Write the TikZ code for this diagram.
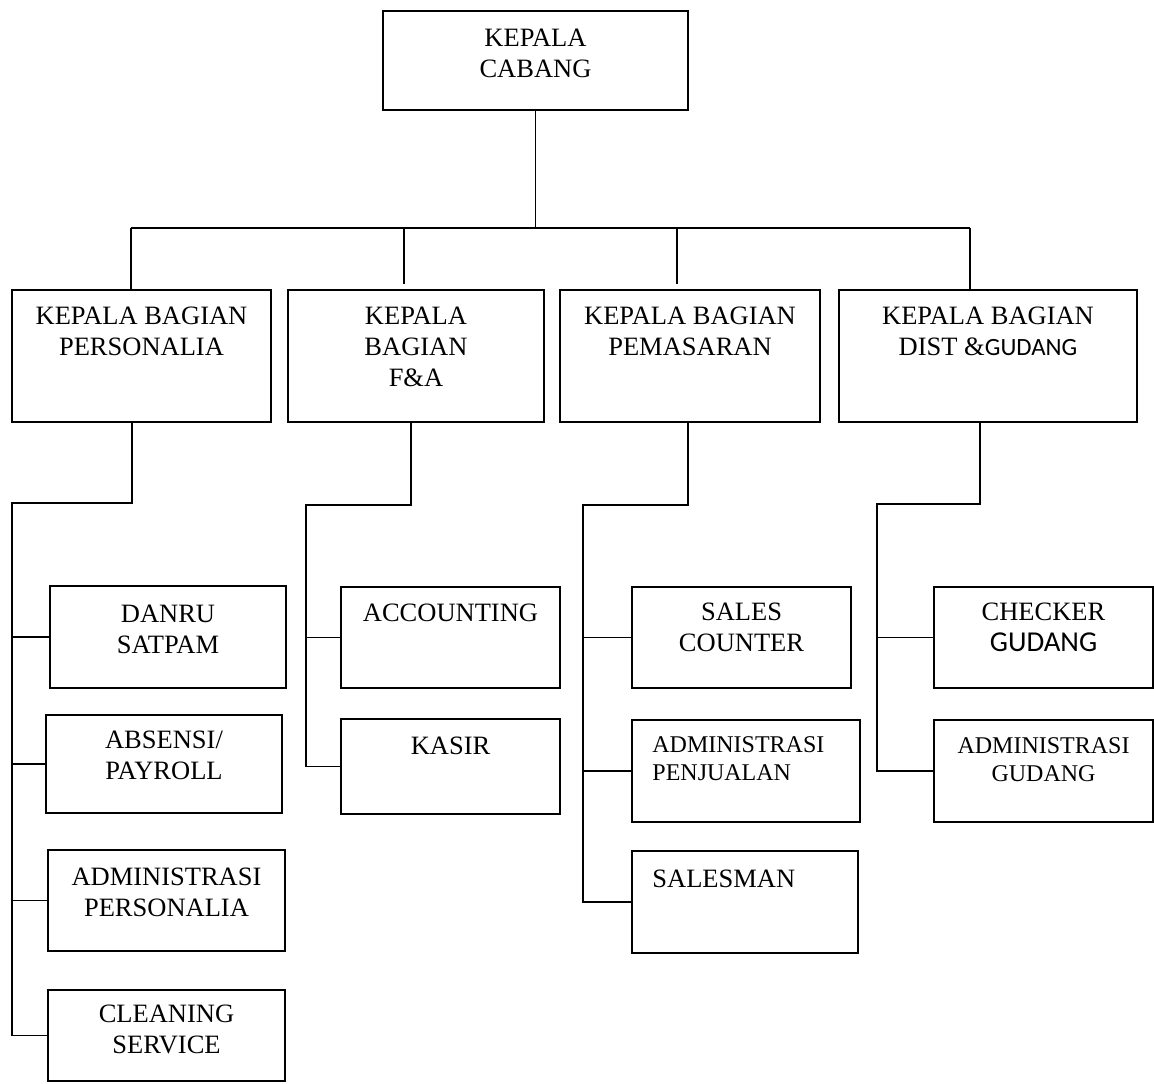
\documentclass[tikz,border=0pt]{standalone}
\usepackage{fontspec}
\setmainfont{Liberation Serif}
\newfontfamily\carlito{Carlito}
\usetikzlibrary{positioning}

\begin{document}
\begin{tikzpicture}[x=0.5pt,y=-0.5pt]

	\tikzstyle{box} = [rectangle, draw, line width=1pt, anchor=north west, inner sep=0pt]
	\tikzstyle{txt} = [align=center, inner sep=0pt, font=\fontsize{13.25}{15.5}\selectfont]
	\tikzstyle{txtsmall} = [align=center, inner sep=0pt, font=\fontsize{12}{14.3}\selectfont]
	\tikzstyle{line} = [draw, line width=0.9pt]

	\useasboundingbox (0,0) rectangle (1154,1083);

	% kepala cabang
	\node [box,minimum width=152.5pt,minimum height=49.5pt] (kc) at (382,10) {};
	\node [txt,below=9.5pt of kc.north] (kct) {KEPALA\\CABANG};

	% kepala bagian
	\node [box,minimum width=129.5pt,minimum height=66pt] (pers) at (11,289) {};
	\node [txt,below=9pt of pers.north] (perst) {KEPALA BAGIAN\\PERSONALIA};
	\node [box,minimum width=128pt,minimum height=66pt] (fa) at (287,289) {};
	\node [txt,below=9pt of fa.north] (fat) {KEPALA\\BAGIAN\\F\&A};
	\node [box,minimum width=130pt,minimum height=66pt] (pem) at (559,289) {};
	\node [txt,below=9pt of pem.north] (pemt) {KEPALA BAGIAN\\PEMASARAN};
	\node [box,minimum width=149pt,minimum height=66pt] (dist) at (838,289) {};
	\node [txt,below=9pt of dist.north] (distt) {KEPALA BAGIAN\\DIST \&{\carlito\fontsize{12.4}{15.5}\selectfont GUDANG}};

	% personalia
	\node [box,minimum width=118pt,minimum height=51pt] (danru) at (49,585) {};
	\node [txt,below=10pt of danru.north] (danrut) {DANRU\\SATPAM};
	\node [box,minimum width=118pt,minimum height=49pt] (absensi) at (45,714) {};
	\node [txt,below=8.5pt of absensi.north] (absensit) {ABSENSI/\\PAYROLL};
	\node [box,minimum width=118.5pt,minimum height=50.5pt] (admpers) at (47,849) {};
	\node [txt,below=9.5pt of admpers.north] (admperst) {ADMINISTRASI\\PERSONALIA};
	\node [box,minimum width=118.5pt,minimum height=45.5pt] (cleaning) at (47,989) {};
	\node [txt,below=8pt of cleaning.north] (cleaningt) {CLEANING\\SERVICE};

	% f&a
	\node [box,minimum width=109.5pt,minimum height=50.5pt] (acc) at (340,586) {};
	\node [txt,below=9pt of acc.north] (acct) {ACCOUNTING};
	\node [box,minimum width=109.5pt,minimum height=47.5pt] (kasir) at (340,718) {};
	\node [txt,below=9.5pt of kasir.north] (kasirt) {KASIR};

	% pemasaran
	\node [box,minimum width=109.5pt,minimum height=50.5pt] (sales) at (631,586) {};
	\node [txt,below=8.5pt of sales.north] (salest) {SALES\\COUNTER};
	\node [box,minimum width=114pt,minimum height=51pt] (admpenj) at (631,719) {};
	\node [txtsmall,align=left,below right=8.5pt and 10.5pt of admpenj.north west] (admpenjt) {ADMINISTRASI\\PENJUALAN};
	\node [box,minimum width=113pt,minimum height=51pt] (salesman) at (631,850) {};
	\node [txt,align=left,below right=10pt and 10.5pt of salesman.north west] (salesmant) {SALESMAN};

	% dist & gudang
	\node [box,minimum width=109.5pt,minimum height=50.5pt] (checker) at (933,586) {};
	\node [txt,below=8.5pt of checker.north] (checkert) {CHECKER\\{\carlito\fontsize{14.4}{17}\selectfont GUDANG}};
	\node [box,minimum width=109.5pt,minimum height=51pt] (admgud) at (933,719) {};
	\node [txtsmall,below=9pt of admgud.north] (admgudt) {ADMINISTRASI\\GUDANG};

	% garis atas
	\coordinate (bar) at (0,228);
	\coordinate (d1) at (131,228);
	\coordinate (d2) at (404,228);
	\coordinate (d3) at (677,228);
	\coordinate (d4) at (970,228);
	\draw [line] (kc.south) -- (kc.south |- bar);
	\draw [line,line width=1.2pt] (d1) -- (d4);
	\draw [line] (d1) -- (d1 |- pers.north);
	\draw [line] (d2) -- ++(0,56);
	\draw [line] (d3) -- ++(0,56);
	\draw [line] (d4) -- (d4 |- dist.north);

	% garis personalia
	\coordinate (ps) at (12,503);
	\draw [line] ([xshift=-4.75pt]pers.south) |- (ps) |- (cleaning.west);
	\foreach \b in {danru,absensi,admpers} \draw [line] (ps |- \b.west) -- (\b.west);

	% garis f&a
	\coordinate (fs) at (306,505);
	\draw [line] ([xshift=-2.5pt]fa.south) |- (fs) |- (kasir.west);
	\draw [line] (fs |- acc.west) -- (acc.west);

	% garis pemasaran
	\coordinate (ms) at (583,505);
	\draw [line] ([xshift=-1pt]pem.south) |- (ms) |- (salesman.west);
	\foreach \b in {sales,admpenj} \draw [line] (ms |- \b.west) -- (\b.west);

	% garis dist & gudang
	\coordinate (gs) at (877,504);
	\draw [line] ([xshift=-4pt]dist.south) |- (gs) |- (admgud.west);
	\draw [line] (gs |- checker.west) -- (checker.west);

\end{tikzpicture}
\end{document}
